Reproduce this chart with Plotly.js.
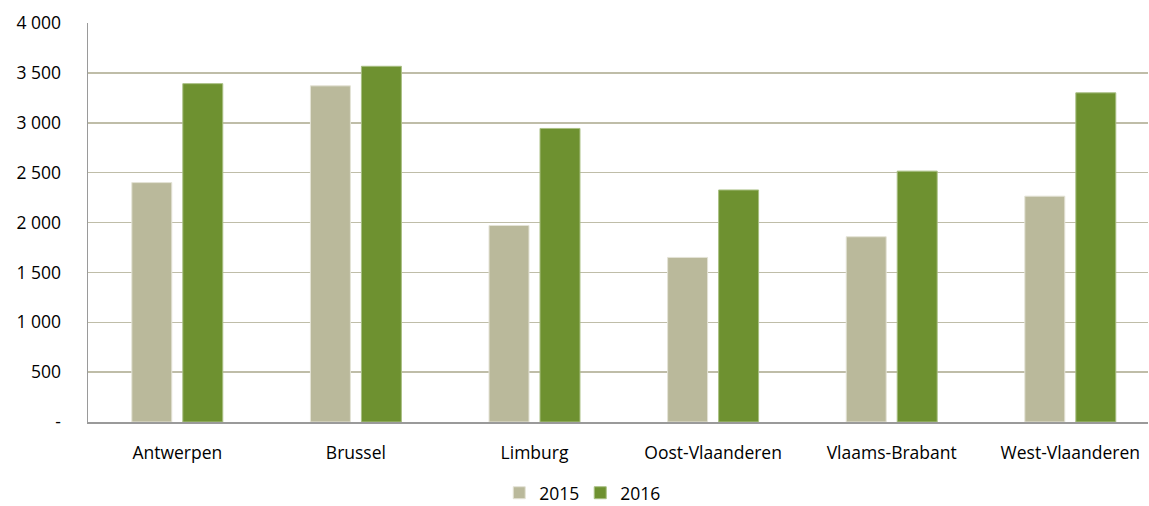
<!DOCTYPE html>
<html>
<head>
<meta charset="utf-8">
<script src="https://cdn.plot.ly/plotly-3.0.1.min.js"></script>
<style>html,body{margin:0;padding:0;background:#fff}#chart{width:1149px;height:506px}</style>
</head>
<body>
<div id="chart"></div>
<script>
const categories = ["Antwerpen", "Brussel", "Limburg", "Oost-Vlaanderen", "Vlaams-Brabant", "West-Vlaanderen"];
const values2015 = [2400, 3370, 1970, 1650, 1857, 2264];
const values2016 = [3392, 3566, 2943, 2326, 2515, 3300];
const tickValues = [0, 500, 1000, 1500, 2000, 2500, 3000, 3500, 4000];
const tickLabels = ["-", "500", "1 000", "1 500", "2 000", "2 500", "3 000", "3 500", "4 000"];

const font = {family: "'Open Sans', sans-serif", size: 17.5, color: "#000"};

const traces = [
  {type: "bar", name: "2015", x: categories, y: values2015,
   marker: {color: "#BAB99B", line: {color: "#E4E3D6", width: 1}}, hoverinfo: "none"},
  {type: "bar", name: "2016", x: categories, y: values2016,
   marker: {color: "#6E9130", line: {color: "#A9BF83", width: 1}}, hoverinfo: "none"}
];

const layout = {
  width: 1149, height: 506,
  margin: {l: 88, r: 1, t: 23, b: 84},
  paper_bgcolor: "#fff", plot_bgcolor: "#fff",
  font: font,
  barmode: "group",
  bargap: 0.429,
  bargroupgap: 0.216,
  showlegend: true,
  legend: {orientation: "h", x: 0.505, xref: "container", xanchor: "center",
           y: 0.026, yref: "container", yanchor: "middle",
           font: font, itemwidth: 30, entrywidth: 36, traceorder: "normal"},
  xaxis: {
    type: "category", range: [-0.5, 5.435],
    showline: true, linecolor: "#9A9A9A", linewidth: 1.5,
    showgrid: false, zeroline: false, ticks: "", ticklabelstandoff: 14,
    tickfont: font, fixedrange: true
  },
  yaxis: {
    range: [0, 4000], tickmode: "array", tickvals: tickValues, ticktext: tickLabels,
    showline: true, linecolor: "#9A9A9A", linewidth: 1.5,
    showgrid: true, gridcolor: "#BFBDA8", gridwidth: 1.5, zeroline: false,
    ticks: "", ticklabelstandoff: 22, tickfont: font, fixedrange: true
  }
};

Plotly.newPlot("chart", traces, layout, {displayModeBar: false, staticPlot: true});
</script>
</body>
</html>
